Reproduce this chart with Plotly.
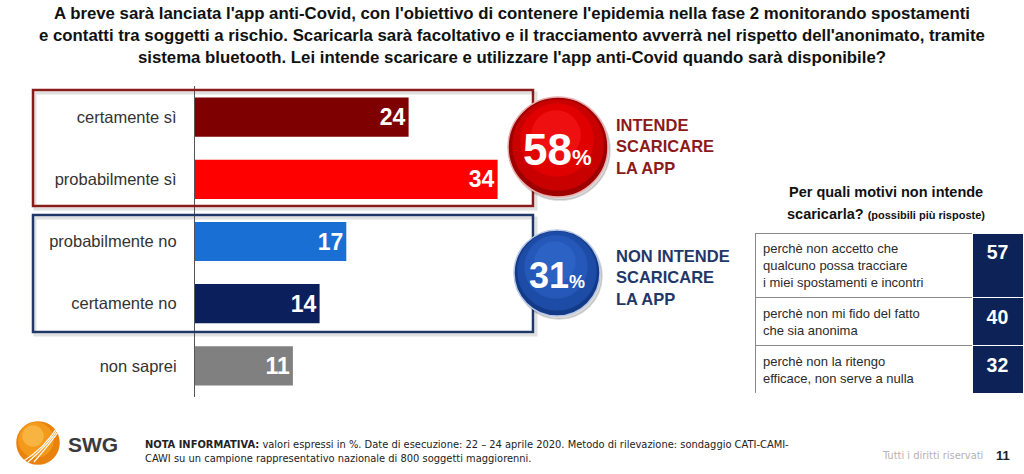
import plotly.graph_objects as go

W, H = 1024, 474

# ---------------- data ----------------
categories = ["certamente sì", "probabilmente sì", "probabilmente no", "certamente no", "non saprei"]
values = [24, 34, 17, 14, 11]
bar_colors = ["#7f0000", "#ff0000", "#1a6fd4", "#0b1f5c", "#808080"]

group_totals = [58, 31]
group_labels = ["INTENDE<br>SCARICARE<br>LA APP", "NON INTENDE<br>SCARICARE<br>LA APP"]

reasons = ["perchè non accetto che<br>qualcuno possa tracciare<br>i miei spostamenti e incontri",
           "perchè non mi fido del fatto<br>che sia anonima",
           "perchè non la ritengo<br>efficace, non serve a nulla"]
reason_values = [57, 40, 32]

TITLE = ("A breve sarà lanciata l'app anti-Covid, con l'obiettivo di contenere l'epidemia nella fase 2 monitorando spostamenti<br>"
         "e contatti tra soggetti a rischio. Scaricarla sarà facoltativo e il tracciamento avverrà nel rispetto dell'anonimato, tramite<br>"
         "sistema bluetooth. Lei intende scaricare e utilizzare l'app anti-Covid quando sarà disponibile?")


def px(x):
    return x / W


def py(y):
    return 1 - y / H


NARROW = "DejaVu Sans Condensed, Liberation Sans Narrow, Arial Narrow, Liberation Sans, Arial, sans-serif"
SANS = "Liberation Sans, Arial, sans-serif"

fig = go.Figure()

fig.add_trace(go.Bar(
    x=values, y=categories, orientation="h",
    marker=dict(color=bar_colors, line=dict(width=0)),
    width=0.63,
    text=[f"<b>{v}</b>" for v in values],
    textposition="inside", insidetextanchor="end",
    textfont=dict(color="white", size=23, family=SANS),
    hoverinfo="skip",
))

fig.add_trace(go.Table(
    domain=dict(x=[px(755), px(1023)], y=[py(394), py(233)]),
    columnwidth=[217, 51],
    header=dict(values=["", ""], height=0, line=dict(width=0), fill=dict(color="rgba(0,0,0,0)")),
    cells=dict(
        values=[reasons, [f"<b>{v}</b>" for v in reason_values]],
        fill=dict(color=[["white"] * 3, ["#0d2358"] * 3]),
        line=dict(color=[["#8a8a8a"] * 3, ["white"] * 3], width=1),
        align=["left", "center"],
        font=dict(color=["#2b2b2b", "white"], size=[13, 19.5], family=SANS),
        height=46,
    ),
))

fig.update_layout(
    width=W, height=H,
    margin=dict(l=0, r=0, t=0, b=0),
    paper_bgcolor="white", plot_bgcolor="white",
    showlegend=False,
    bargap=0.37,
    uniformtext=dict(minsize=20, mode="show"),
    xaxis=dict(domain=[px(195), px(729)], range=[0, 60], visible=False, fixedrange=True),
    yaxis=dict(domain=[py(397), py(86)], type="category", categoryorder="array", categoryarray=categories,
               range=[4.5, -0.5], showline=True, linecolor="#555555", linewidth=1, ticks="",
               showgrid=False, zeroline=False, ticklabelstandoff=14, fixedrange=True,
               tickfont=dict(size=16.5, color="#333333", family=SANS)),
)

shapes = []
# group boxes (with soft shadow)
for (top, bot, col) in [(90, 206, "#8b1a1a"), (215, 332, "#1f3868")]:
    shapes.append(dict(type="rect", xref="paper", yref="paper", x0=px(35), x1=px(536), y0=py(bot + 3), y1=py(top + 3),
                       line=dict(color="rgba(0,0,0,0.12)", width=3), layer="below"))
    shapes.append(dict(type="rect", xref="paper", yref="paper", x0=px(33), x1=px(533), y0=py(bot), y1=py(top),
                       line=dict(color=col, width=2.5), layer="above"))


def circle(cx, cy, r, fill, line=None):
    return dict(type="circle", xref="paper", yref="paper", x0=px(cx - r), x1=px(cx + r), y0=py(cy + r), y1=py(cy - r),
                fillcolor=fill, line=dict(color=line or fill, width=1.5), layer="above")


# red circle
shapes += [circle(560, 150, 50, "rgba(0,0,0,0.15)"),
           circle(558, 147, 50, "#9e0000", "#e8b0b0"),
           circle(558, 145, 45, "#c80000"),
           circle(557, 140, 36, "#e00000"),
           circle(556, 135, 24, "#ee1010")]
# blue circle
shapes += [circle(559, 276, 43, "rgba(0,0,0,0.15)"),
           circle(557, 273, 43, "#133a86", "#b8c8e8"),
           circle(557, 271, 39, "#1d4ca6"),
           circle(556, 267, 31, "#2558b8"),
           circle(555, 262, 20, "#2c62c4")]
# SWG logo
shapes += [circle(38, 443, 21, "#e9820c"),
           circle(36, 440, 17, "#f39a1c"),
           circle(33, 436, 10, "#f8b440")]
for k in range(3):
    shapes.append(dict(type="path", xref="paper", yref="paper",
                       path=f"M {px(22 + 6 * k)} {py(462)} Q {px(45 + 4 * k)} {py(448 - 4 * k)} {px(58)} {py(426 + 3 * k)}",
                       line=dict(color="white", width=1.3), layer="above"))
fig.update_layout(shapes=shapes)

ann = []
ann.append(dict(text=f"<b>{TITLE}</b>", x=px(512), y=py(36), xref="paper", yref="paper", showarrow=False,
                align="center", font=dict(size=16.8, color="#111111", family=SANS), xanchor="center", yanchor="middle"))
circ_y = [147, 273]
circ_size = [44, 36]
for i in range(2):
    ann.append(dict(text=f"<b>{group_totals[i]}<span style='font-size:{circ_size[i]//2}px'>%</span></b>",
                    x=px(557), y=py(circ_y[i] + 2), xref="paper", yref="paper", showarrow=False,
                    font=dict(size=circ_size[i], color="white", family=SANS), xanchor="center", yanchor="middle"))
label_cols = ["#8b1a1a", "#1f3868"]
label_y = [146, 277]
for i in range(2):
    ann.append(dict(text=f"<b>{group_labels[i]}</b>", x=px(614), y=py(label_y[i]), xref="paper", yref="paper",
                    showarrow=False, align="left", xanchor="left", yanchor="middle",
                    font=dict(size=16.5, color=label_cols[i], family=SANS)))
ann.append(dict(text="<b>Per quali motivi non intende</b>", x=px(886), y=py(192), xref="paper", yref="paper",
                showarrow=False, font=dict(size=14.5, color="#111111", family=SANS), xanchor="center", yanchor="middle"))
ann.append(dict(text="<b>scaricarla? <span style='font-size:11px'>(possibili più risposte)</span></b>", x=px(886), y=py(214),
                xref="paper", yref="paper", showarrow=False, font=dict(size=14.5, color="#111111", family=SANS),
                xanchor="center", yanchor="middle"))
ann.append(dict(text="<b>SWG</b>", x=px(66), y=py(444), xref="paper", yref="paper", showarrow=False,
                font=dict(size=21, color="#3a3a3a", family=SANS), xanchor="left", yanchor="middle"))
ann.append(dict(text="<b>NOTA INFORMATIVA:</b> valori espressi in %. Date di esecuzione: 22 – 24 aprile 2020. Metodo di rilevazione: sondaggio CATI-CAMI-<br>"
                     "CAWI su un campione rappresentativo nazionale di 800 soggetti maggiorenni.",
                x=px(143), y=py(451), xref="paper", yref="paper", showarrow=False, align="left",
                font=dict(size=11, color="#222222", family=NARROW), xanchor="left", yanchor="middle"))
ann.append(dict(text="Tutti i diritti riservati", x=px(985), y=py(455), xref="paper", yref="paper", showarrow=False,
                font=dict(size=11, color="#b3b3b3", family=NARROW), xanchor="right", yanchor="middle"))
ann.append(dict(text="<b>11</b>", x=px(1003), y=py(455), xref="paper", yref="paper", showarrow=False,
                font=dict(size=13, color="#222222", family=SANS), xanchor="center", yanchor="middle"))
fig.update_layout(annotations=ann)

fig.write_html("out.html", config={"displayModeBar": False},
               post_script="document.body.style.margin='0';document.body.style.padding='0';")
